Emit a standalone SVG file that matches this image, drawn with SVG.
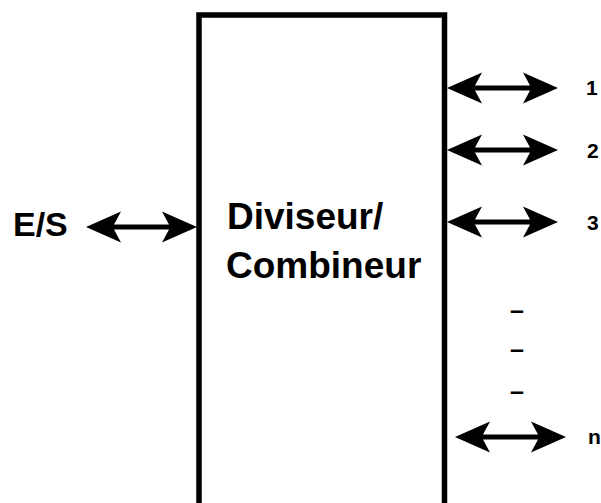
<svg xmlns="http://www.w3.org/2000/svg" width="601" height="503" viewBox="0 0 601 503">
<style>
text{font-family:"Liberation Sans",Arial,sans-serif;font-weight:bold;fill:#000}
.big{font-size:37px}
.lab{font-size:34px}
.num{font-size:21px}
.dash{font-size:25px}
.box{fill:#fff;stroke:#000;stroke-width:5.5}
.arr{fill:#000}
</style>
<defs>
<path id="dbl" d="M0,0 L35,-15.5 L28,-2.5 L83,-2.5 L76,-15.5 L111,0 L76,15.5 L83,2.5 L28,2.5 L35,15.5 Z"/>
</defs>
<rect width="601" height="503" fill="#fff"/>
<g id="divcomb">
<path class="box" d="M199,515 V15 H444.5 V515"/>
<text class="big" x="227" y="229">Diviseur/</text>
<text class="big" x="226" y="278">Combineur</text>
</g>
<g id="es"><text class="lab" x="13" y="236">E/S</text></g>
<g id="p1"><text class="num" x="586" y="95">1</text></g>
<g id="p2"><text class="num" x="587" y="158">2</text></g>
<g id="p3"><text class="num" x="587" y="230">3</text></g>
<g id="dots">
<text class="dash" x="510" y="319">–</text>
<text class="dash" x="510" y="358">–</text>
<text class="dash" x="510" y="400">–</text>
</g>
<g id="pn"><text class="num" x="588" y="444">n</text></g>
<g id="connectors" class="arr">
<use href="#dbl" transform="translate(86,227)"/>
<use href="#dbl" transform="translate(447,88)"/>
<use href="#dbl" transform="translate(447,150)"/>
<use href="#dbl" transform="translate(447,222)"/>
<use href="#dbl" transform="translate(455,437)"/>
</g>
</svg>
